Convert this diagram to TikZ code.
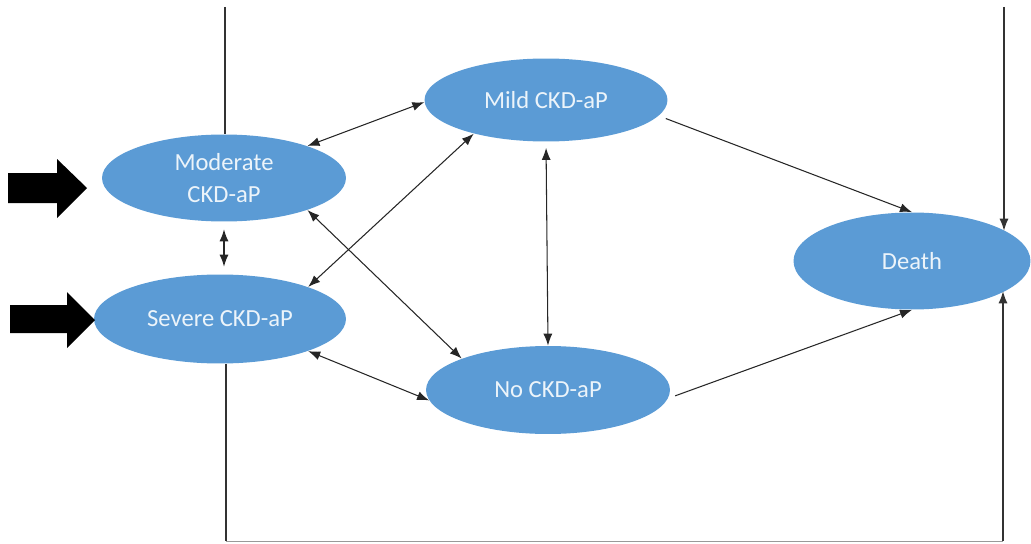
\documentclass[tikz,border=0pt]{standalone}
\usepackage{fontspec}
\setmainfont{Carlito}
\usepackage{tikz}
\usetikzlibrary{arrows.meta,positioning,shapes.geometric,calc}
\definecolor{ckdBlue}{RGB}{91,155,213}
\definecolor{ckdText}{RGB}{236,244,250}

\begin{document}
\begin{tikzpicture}[
    x=0.02cm, y=-0.02cm,
    state/.style={ellipse, fill=ckdBlue, draw=none, inner sep=0pt,
        text=ckdText, align=center, font=\fontsize{14}{18}\selectfont},
    biarr/.style={{Latex[length=2.4mm,width=1.8mm]}-{Latex[length=2.4mm,width=1.8mm]}, line width=0.6pt, black!85},
    arr/.style={-{Latex[length=2.4mm,width=1.8mm]}, line width=0.6pt, black!85},
    flow/.style={line width=0.7pt, black!80}
]
\useasboundingbox (0,0) rectangle (1031,544);

% States
\node[state, minimum width=4.88cm, minimum height=1.74cm] (mod) at (224,178) {Moderate\\CKD-aP};
\node[state, minimum width=5.04cm, minimum height=1.78cm] (sev) at (220,319) {Severe CKD-aP};
\node[state, minimum width=4.86cm, minimum height=1.66cm] (mild) at (546,100) {Mild CKD-aP};
\node[state, minimum width=4.88cm, minimum height=1.76cm] (nock) at (548,390) {No CKD-aP};
\node[state, minimum width=4.74cm, minimum height=1.94cm] (death) at (912,261) {Death};

% Entry arrows
\fill[black] (8,173) -- (57,173) -- (57,159) -- (87,188) -- (57,218) -- (57,203) -- (8,203) -- cycle;
\fill[black] (10,305) -- (67,305) -- (67,292) -- (95,320) -- (67,348) -- (67,333) -- (10,333) -- cycle;

% Frame lines
\coordinate (topL) at (225,7);
\coordinate (topR) at (1004,7);
\coordinate (botL) at (226,541);
\coordinate (botR) at (1003,541);
\draw[flow] (topL) -- (topL |- mod.north);
\draw[flow, -{Latex[length=2.4mm,width=1.8mm]}] (topR) -- (topR |- death.18);
\draw[flow] (botL |- sev.south) -- (botL);
\draw[black!40, line width=0.5pt] (botL) -- (botR);
\draw[flow, -{Latex[length=2.4mm,width=1.8mm]}] (botR) -- (botR |- death.-18);

% Transitions between states
\draw[biarr] (mod.21) -- (mild.181);
\draw[biarr, shorten <=1.5mm, shorten >=1.5mm] (mod.south) -- (mod.south |- sev.north);
\draw[biarr] (sev.20) -- (mild.205);
\draw[biarr] (mod.-21) -- (nock.160);
\draw[biarr, shorten <=1.2mm] (mild.south) -- (nock.north);
\draw[biarr] (sev.-20) -- (nock.185);

% Transitions to death
\draw[arr, shorten <=1.5mm] (mild.-8) -- (death.north);
\draw[arr, shorten <=1.5mm] (nock.-4) -- (death.south);
\end{tikzpicture}
\end{document}
